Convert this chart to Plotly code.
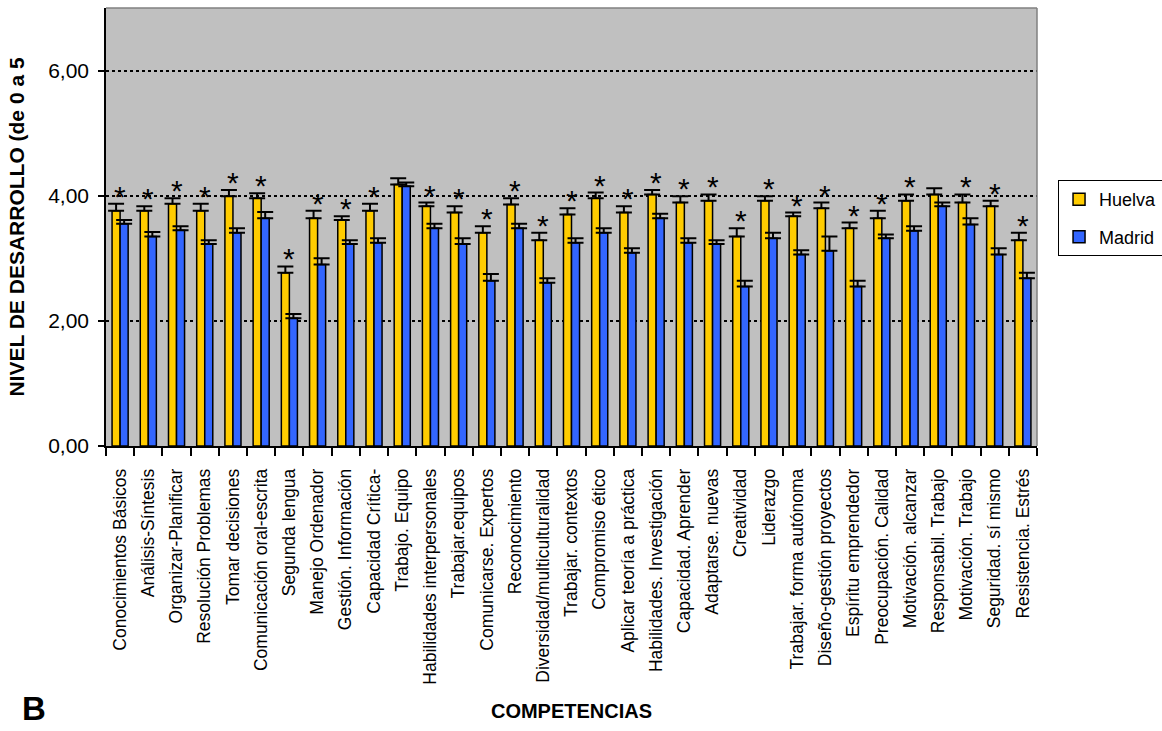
import plotly.graph_objects as go

# Competencias evaluadas
categories = [
    "Conocimientos Básicos", "Análisis-Síntesis", "Organizar-Planificar",
    "Resolución Problemas", "Tomar decisiones", "Comunicación oral-escrita",
    "Segunda lengua", "Manejo Ordenador", "Gestión. Información",
    "Capacidad Crítica-", "Trabajo. Equipo", "Habilidades interpersonales",
    "Trabajar.equipos", "Comunicarse. Expertos", "Reconocimiento",
    "Diversidad/multiculturalidad", "Trabajar. contextos", "Compromiso ético",
    "Aplicar teoría a práctica", "Habilidades. Investigación",
    "Capacidad. Aprender", "Adaptarse. nuevas", "Creatividad", "Liderazgo",
    "Trabajar. forma autónoma", "Diseño-gestión proyectos",
    "Espíritu emprendedor", "Preocupación. Calidad", "Motivación. alcanzar",
    "Responsabil. Trabajo", "Motivación. Trabajo", "Seguridad. sí mismo",
    "Resistencia. Estrés",
]

# Medias y error (barra superior) por grupo
huelva = [3.76, 3.76, 3.87, 3.76, 3.99, 3.96, 2.77, 3.64, 3.61, 3.76, 4.18,
          3.83, 3.73, 3.41, 3.86, 3.29, 3.70, 3.96, 3.73, 4.02, 3.89, 3.92,
          3.35, 3.92, 3.67, 3.80, 3.48, 3.64, 3.92, 4.02, 3.89, 3.83, 3.29]
huelva_err = [0.11, 0.07, 0.09, 0.11, 0.10, 0.08, 0.10, 0.12, 0.06, 0.11, 0.10,
              0.06, 0.10, 0.10, 0.10, 0.12, 0.10, 0.09, 0.10, 0.07, 0.10, 0.10,
              0.13, 0.07, 0.06, 0.09, 0.09, 0.12, 0.10, 0.10, 0.13, 0.09, 0.12]
madrid = [3.55, 3.35, 3.45, 3.23, 3.41, 3.64, 2.04, 2.90, 3.23, 3.25, 4.15,
          3.48, 3.23, 2.64, 3.48, 2.61, 3.25, 3.41, 3.09, 3.64, 3.25, 3.23,
          2.55, 3.32, 3.06, 3.12, 2.55, 3.32, 3.44, 3.83, 3.54, 3.06, 2.68]
madrid_err = [0.06, 0.07, 0.06, 0.06, 0.07, 0.10, 0.07, 0.10, 0.06, 0.07, 0.06,
              0.07, 0.09, 0.11, 0.07, 0.07, 0.07, 0.07, 0.07, 0.07, 0.07, 0.06,
              0.09, 0.09, 0.07, 0.23, 0.09, 0.06, 0.07, 0.06, 0.10, 0.10, 0.09]

# Diferencia significativa entre grupos (*)
significant = [True] * 10 + [False] + [True] * 18 + [False] + [True] * 3

y_ticks = [0, 2, 4, 6]
y_tick_labels = ["0,00", "2,00", "4,00", "6,00"]

FONT = "Arial, Liberation Sans, sans-serif"

fig = go.Figure()


def err_style(vals):
    return dict(type="data", array=vals, arrayminus=[0] * len(vals),
                symmetric=False, color="black", thickness=2, width=8)


fig.add_trace(go.Bar(
    name="Huelva", x=categories, y=huelva, legendgroup="h",
    marker=dict(color="#FFCC00", line=dict(color="black", width=1.5)),
    error_y=err_style(huelva_err),
))
fig.add_trace(go.Bar(
    name="Madrid", x=categories, y=madrid, legendgroup="m",
    marker=dict(color="#3366FF", line=dict(color="black", width=1.5)),
    error_y=err_style(madrid_err),
))

annotations = []
for cat, val, err, sig in zip(categories, huelva, huelva_err, significant):
    if sig:
        annotations.append(dict(
            x=cat, y=val + err, xref="x", yref="y", text="*",
            showarrow=False, yanchor="bottom", yshift=-11,
            font=dict(family=FONT, size=30, color="black"),
        ))

annotations.append(dict(
    x=-0.092, y=-0.646, xref="paper", yref="paper", xanchor="left",
    yanchor="bottom", text="<b>B</b>", showarrow=False,
    font=dict(family=FONT, size=33, color="black"),
))

fig.update_layout(
    width=1162, height=731,
    margin=dict(l=106, r=125, t=8, b=285, autoexpand=False),
    paper_bgcolor="white",
    plot_bgcolor="#C0C0C0",
    barmode="group",
    bargap=0.43,
    bargroupgap=0,
    font=dict(family=FONT, color="black"),
    showlegend=True,
    legend=dict(
        x=1.0226, y=0.607, xanchor="left", yanchor="top",
        bordercolor="black", borderwidth=1, bgcolor="white",
        font=dict(family=FONT, size=18, color="black"),
        itemwidth=30, tracegroupgap=11,
    ),
    xaxis=dict(
        type="category", tickangle=-90, tickson="boundaries",
        ticks="outside", ticklen=8, tickwidth=1.5, tickcolor="black",
        ticklabelstandoff=14,
        showline=True, linecolor="black", linewidth=1.5, mirror=False,
        showgrid=False,
        tickfont=dict(family=FONT, size=17.5, color="black"),
        title=dict(text="<b>COMPETENCIAS</b>",
                   font=dict(family=FONT, size=20, color="black"),
                   standoff=20),
    ),
    yaxis=dict(
        range=[0, 7], tickvals=y_ticks, ticktext=y_tick_labels,
        ticks="outside", ticklen=6, tickwidth=1.5, tickcolor="black",
        ticklabelstandoff=5,
        showline=True, linecolor="black", linewidth=1.5,
        showgrid=True, gridcolor="black", griddash="dot", gridwidth=1.5,
        zeroline=False,
        tickfont=dict(family=FONT, size=21, color="black"),
        title=dict(text="<b>NIVEL DE DESARROLLO (de 0 a 5</b>",
                   font=dict(family=FONT, size=21, color="black"),
                   standoff=18),
    ),
    annotations=annotations,
    shapes=[
        dict(type="line", xref="paper", yref="paper", x0=0, x1=1, y0=1, y1=1,
             line=dict(color="#808080", width=1.5)),
        dict(type="line", xref="paper", yref="paper", x0=1, x1=1, y0=0, y1=1,
             line=dict(color="#808080", width=1.5)),
    ],
)

fig.write_html("out.html")
